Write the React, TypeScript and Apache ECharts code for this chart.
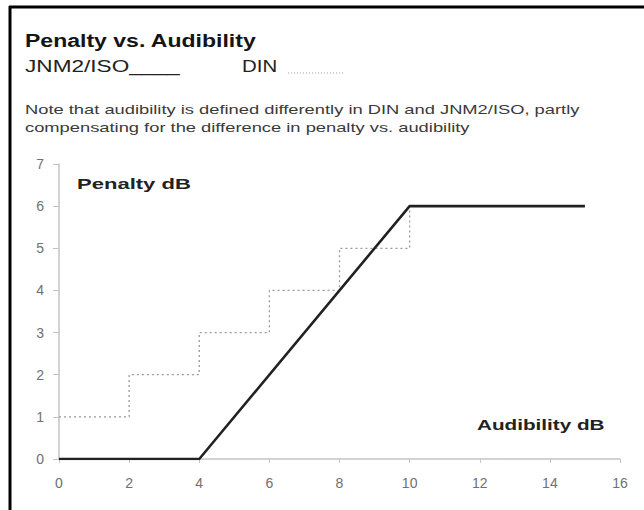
import React, { useEffect, useRef } from "react";
import * as echarts from "echarts";

const xTicks = [0, 2, 4, 6, 8, 10, 12, 14, 16];
const yTicks = [0, 1, 2, 3, 4, 5, 6, 7];
const jnmX = [0, 4, 10, 15];
const jnmY = [0, 0, 6, 6];
const dinX = [0, 2, 2, 4, 4, 6, 6, 8, 8, 10, 10];
const dinY = [1, 1, 2, 2, 3, 3, 4, 4, 5, 5, 6];

const FONT = "'Liberation Sans', Arial, sans-serif";

function label(text: string, x: number, y: number, font: string, fill: string, scaleX: number) {
  return {
    type: "text",
    x,
    y,
    scaleX,
    style: { text, font, fill, align: "left", verticalAlign: "middle" },
  };
}

export default function App() {
  const ref = useRef<HTMLDivElement>(null);
  useEffect(() => {
    if (!ref.current) return;
    const chart = echarts.init(ref.current, null, { renderer: "svg" });
    chart.setOption({
      animation: false,
      backgroundColor: "#ffffff",
      textStyle: { fontFamily: FONT },
      grid: { left: 59, right: 24, top: 164, bottom: 51 },
      xAxis: {
        type: "value",
        min: xTicks[0],
        max: xTicks[xTicks.length - 1],
        interval: 2,
        axisLine: { show: true, lineStyle: { color: "#c4c4c4", width: 1.5 } },
        axisTick: { show: true, inside: false, length: 4, lineStyle: { color: "#c4c4c4" } },
        axisLabel: { color: "#707070", fontSize: 14, fontFamily: FONT, margin: 17 },
        splitLine: { show: false },
      },
      yAxis: {
        type: "value",
        min: yTicks[0],
        max: yTicks[yTicks.length - 1],
        interval: 1,
        axisLine: { show: true, lineStyle: { color: "#c4c4c4", width: 1.5 } },
        axisTick: { show: true, inside: false, length: 6, lineStyle: { color: "#c4c4c4" } },
        axisLabel: { color: "#707070", fontSize: 14, fontFamily: FONT, margin: 15 },
        splitLine: { show: false },
      },
      series: [
        {
          name: "DIN",
          type: "line",
          data: dinX.map((x, i) => [x, dinY[i]]),
          showSymbol: false,
          lineStyle: { color: "#9a9a9a", width: 1.3, type: [2, 3] },
          z: 2,
        },
        {
          name: "JNM2/ISO",
          type: "line",
          data: jnmX.map((x, i) => [x, jnmY[i]]),
          showSymbol: false,
          lineStyle: { color: "#222222", width: 2.6 },
          z: 3,
        },
      ],
      graphic: [
        { type: "line", shape: { x1: 9, y1: 7, x2: 644, y2: 7 }, style: { stroke: "#000", lineWidth: 3 } },
        { type: "line", shape: { x1: 10, y1: 6, x2: 10, y2: 510 }, style: { stroke: "#000", lineWidth: 3 } },
        label("Penalty vs. Audibility", 25, 40, `bold 18px ${FONT}`, "#151515", 1.28),
        label("JNM2/ISO____", 25, 66, `17px ${FONT}`, "#222222", 1.33),
        label("DIN", 242, 66, `17px ${FONT}`, "#222222", 1.2),
        {
          type: "line",
          shape: { x1: 288, y1: 73, x2: 345, y2: 73 },
          style: { stroke: "#a0a0a0", lineWidth: 1.2, lineDash: [1, 2] },
        },
        label("Note that audibility is defined differently in DIN and JNM2/ISO, partly", 25, 110, `13px ${FONT}`, "#3a3a3a", 1.41),
        label("compensating for the difference in penalty vs. audibility", 25, 128, `13px ${FONT}`, "#3a3a3a", 1.41),
        label("Penalty dB", 77, 184, `bold 15px ${FONT}`, "#222222", 1.47),
        label("Audibility dB", 477, 425, `bold 15px ${FONT}`, "#222222", 1.38),
      ],
    });
    return () => chart.dispose();
  }, []);
  return (
    <div
      ref={ref}
      style={{ position: "fixed", left: 0, top: 0, width: 644, height: 510 }}
    />
  );
}
